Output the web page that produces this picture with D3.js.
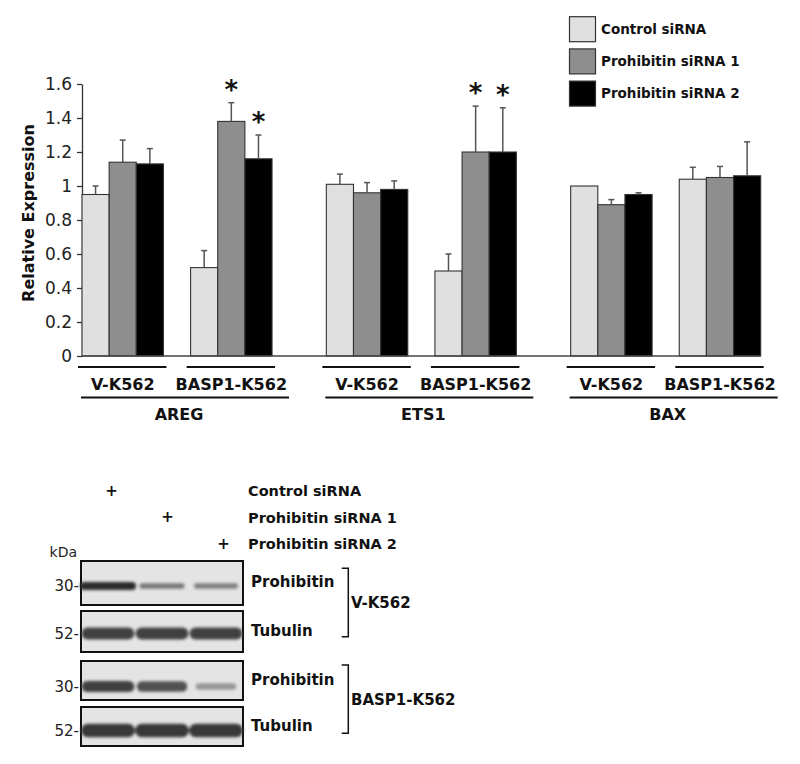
<!DOCTYPE html>
<html><head><meta charset="utf-8">
<script src="https://cdn.jsdelivr.net/npm/d3@7"></script>
<style>body{margin:0;background:#fff} svg{display:block} text{font-family:"DejaVu Sans",sans-serif}</style>
</head><body><svg id="c" width="800" height="764"></svg>
<script>
// ---------- bar chart data ----------
const genes = ["AREG", "ETS1", "BAX"];
const cellLines = ["V-K562", "BASP1-K562"];
const seriesNames = ["Control siRNA", "Prohibitin siRNA 1", "Prohibitin siRNA 2"];
// order: AREG V, AREG BASP1, ETS1 V, ETS1 BASP1, BAX V, BAX BASP1
const controlValues = [0.95, 0.52, 1.01, 0.50, 1.00, 1.04];
const sirna1Values  = [1.14, 1.38, 0.96, 1.20, 0.89, 1.05];
const sirna2Values  = [1.13, 1.16, 0.98, 1.20, 0.95, 1.06];
const controlErrors = [0.05, 0.10, 0.06, 0.10, 0.00, 0.07];
const sirna1Errors  = [0.13, 0.11, 0.06, 0.27, 0.03, 0.065];
const sirna2Errors  = [0.09, 0.14, 0.05, 0.26, 0.01, 0.20];
const sirna1Significant = [false, true, false, true, false, false];
const sirna2Significant = [false, true, false, true, false, false];
const yTicks = [0, 0.2, 0.4, 0.6, 0.8, 1, 1.2, 1.4, 1.6];
const yTickLabels = ["0", "0.2", "0.4", "0.6", "0.8", "1", "1.2", "1.4", "1.6"];
const yTitle = "Relative Expression";
const seriesColors = ["#e0e0e0", "#8e8e8e", "#000000"];

// ---------- western blot data ----------
const blotLanes = ["Control siRNA", "Prohibitin siRNA 1", "Prohibitin siRNA 2"];
const blotCellLines = ["V-K562", "BASP1-K562"];
const blotProteins = ["Prohibitin", "Tubulin"];
const blotMarkers = ["30-", "52-"];
const vProhibitinBands = [1.0, 0.5, 0.45];
const vTubulinBands = [0.85, 0.85, 0.85];
const basp1ProhibitinBands = [0.85, 0.75, 0.3];
const basp1TubulinBands = [0.9, 0.9, 0.9];

const svg = d3.select("#c");
svg.append("rect").attr("width", 800).attr("height", 764).attr("fill", "#fff");

// ---------- scales ----------
const y = d3.scaleLinear().domain([0, 1.6]).range([356, 84]);
const slotsPerGene = 9, slotsPerCell = 4, nSlots = 25;
const x = d3.scaleLinear().domain([0, nSlots]).range([82, 760.7]);
const bw = x(1) - x(0);

const seriesVals = [controlValues, sirna1Values, sirna2Values];
const seriesErrs = [controlErrors, sirna1Errors, sirna2Errors];
const seriesSig = [controlValues.map(() => false), sirna1Significant, sirna2Significant];

const groups = [];
genes.forEach((g, gi) => cellLines.forEach((c, ci) => {
  groups.push({ gene: g, gi, cell: c, ci, idx: gi * 2 + ci, start: gi * slotsPerGene + ci * slotsPerCell });
}));
const bars = [];
groups.forEach(gr => seriesNames.forEach((s, si) => {
  bars.push({ slot: gr.start + si, si, v: seriesVals[si][gr.idx], e: seriesErrs[si][gr.idx], sig: seriesSig[si][gr.idx] });
}));

// ---------- y axis ----------
const ax = svg.append("g").attr("transform", "translate(82,0)")
  .call(d3.axisLeft(y).tickValues(yTicks).tickFormat((d, i) => yTickLabels[i])
    .tickSize(5).tickSizeOuter(0).tickPadding(5));
ax.select(".domain").attr("stroke", "#333").attr("stroke-width", 1.3);
ax.selectAll(".tick line").attr("stroke", "#333").attr("stroke-width", 1.3);
ax.selectAll(".tick text").attr("font-size", 17).attr("fill", "#222")
  .attr("font-family", "DejaVu Sans, sans-serif");

svg.append("text").attr("transform", `translate(33.5,213) rotate(-90)`)
  .attr("text-anchor", "middle").attr("font-size", 16).attr("font-weight", "bold")
  .attr("fill", "#111").text(yTitle);

// ---------- bars ----------
svg.append("g").selectAll("rect").data(bars).join("rect")
  .attr("x", d => x(d.slot)).attr("width", bw)
  .attr("y", d => y(d.v)).attr("height", d => y(0) - y(d.v))
  .attr("fill", d => seriesColors[d.si]).attr("stroke", "#333").attr("stroke-width", 1.1);

// error bars (upward only)
const eg = svg.append("g").attr("stroke", "#555").attr("stroke-width", 1.5);
bars.filter(d => d.e > 0).forEach(d => {
  const cx = x(d.slot) + bw / 2;
  eg.append("line").attr("x1", cx).attr("x2", cx).attr("y1", y(d.v)).attr("y2", y(d.v + d.e));
  eg.append("line").attr("x1", cx - 3).attr("x2", cx + 3).attr("y1", y(d.v + d.e)).attr("y2", y(d.v + d.e));
});

// significance stars
svg.append("g").selectAll("text").data(bars.filter(d => d.sig)).join("text")
  .attr("x", d => x(d.slot) + bw / 2).attr("y", d => y(d.v + d.e) - 4)
  .attr("text-anchor", "middle").attr("font-size", 26).attr("font-weight", "bold")
  .attr("fill", "#111").text("*");

// x baseline
svg.append("line").attr("x1", x(0)).attr("x2", x(nSlots)).attr("y1", y(0)).attr("y2", y(0))
  .attr("stroke", "#444").attr("stroke-width", 1.3);

// ---------- group labels ----------
const lab = svg.append("g");
groups.forEach(gr => {
  const x0 = x(gr.start), x1 = x(gr.start + 3);
  lab.append("line").attr("x1", x0 - 4).attr("x2", x1 + 3).attr("y1", 367).attr("y2", 367)
    .attr("stroke", "#111").attr("stroke-width", 1.8);
  lab.append("text").attr("x", (x0 + x1) / 2).attr("y", 390).attr("text-anchor", "middle")
    .attr("font-size", 16).attr("font-weight", "bold").attr("fill", "#111").text(gr.cell);
});
genes.forEach((g, gi) => {
  const x0 = x(gi * slotsPerGene), x1 = x(gi * slotsPerGene + slotsPerCell + 3);
  lab.append("line").attr("x1", x0 - 1).attr("x2", x1 + 17).attr("y1", 397.5).attr("y2", 397.5)
    .attr("stroke", "#111").attr("stroke-width", 1.8);
  lab.append("text").attr("x", (x0 + x1) / 2 + 2).attr("y", 420).attr("text-anchor", "middle")
    .attr("font-size", 16).attr("font-weight", "bold").attr("fill", "#111").text(g);
});

// ---------- legend ----------
const leg = svg.append("g");
seriesNames.forEach((s, i) => {
  const yy = 16.7 + i * 32.2;
  leg.append("rect").attr("x", 569.5).attr("y", yy).attr("width", 26).attr("height", 25)
    .attr("fill", seriesColors[i]).attr("stroke", "#333").attr("stroke-width", 1.2);
  leg.append("text").attr("x", 601).attr("y", yy + 12.5).attr("dy", "0.36em")
    .attr("font-size", 13.5).attr("font-weight", "bold").attr("fill", "#111").text(s);
});

// ---------- western blot ----------
const defs = svg.append("defs");
defs.append("filter").attr("id", "blur").attr("x", "-20%").attr("y", "-80%").attr("width", "140%").attr("height", "260%")
  .append("feGaussianBlur").attr("stdDeviation", 1.7);

const laneX = d3.scalePoint().domain(blotLanes).range([108, 216]);
const plusX = d3.scalePoint().domain(blotLanes).range([111.5, 223.5]);
const bl = svg.append("g");
blotLanes.forEach((l, i) => {
  const yy = 495.5 + i * 26.5;
  bl.append("text").attr("x", plusX(l)).attr("y", yy).attr("text-anchor", "middle")
    .attr("font-size", 15).attr("font-weight", "bold").attr("fill", "#111").text("+");
  bl.append("text").attr("x", 248).attr("y", yy + 0.5).attr("font-size", 14.5)
    .attr("font-weight", "bold").attr("fill", "#111").text(l);
});
bl.append("text").attr("x", 77).attr("y", 556.5).attr("text-anchor", "end")
  .attr("font-size", 14).attr("fill", "#222").text("kDa");

const panels = [
  { cell: 0, prot: 0, top: 561, h: 44, bands: vProhibitinBands, thick: 8, off: 3 },
  { cell: 0, prot: 1, top: 611, h: 41, bands: vTubulinBands, thick: 13, off: 2 },
  { cell: 1, prot: 0, top: 661, h: 39, bands: basp1ProhibitinBands, thick: 12, off: 6 },
  { cell: 1, prot: 1, top: 707, h: 39, bands: basp1TubulinBands, thick: 14, off: 4 }
];
const bandColor = d3.scaleLinear().domain([0, 1]).range(["#c4c4c4", "#2a2a2a"]);
panels.forEach(p => {
  bl.append("rect").attr("x", 81).attr("y", p.top).attr("width", 162).attr("height", p.h)
    .attr("fill", "#e4e4e4").attr("stroke", "#111").attr("stroke-width", 2);
  const cy = p.top + p.h / 2 + p.off;
  const g = bl.append("g").attr("filter", "url(#blur)");
  p.bands.forEach((b, li) => {
    const w = 34 + 22 * b;
    const th = Math.max(4, p.thick * Math.sqrt(b));
    g.append("rect").attr("x", laneX(blotLanes[li]) - w / 2).attr("y", cy - th / 2)
      .attr("width", w).attr("height", th).attr("rx", th / 2)
      .attr("fill", bandColor(b));
  });
  bl.append("text").attr("x", 79).attr("y", cy).attr("dy", "0.36em").attr("text-anchor", "end")
    .attr("font-size", 15).attr("fill", "#222").text(blotMarkers[p.prot]);
  bl.append("text").attr("x", 251).attr("y", p.top + p.h / 2 - 1).attr("dy", "0.36em")
    .attr("font-size", 15).attr("font-weight", "bold").attr("fill", "#111").text(blotProteins[p.prot]);
});
blotCellLines.forEach((c, ci) => {
  const t = ci === 0 ? 568.3 : 665, b = ci === 0 ? 636.7 : 733.3;
  bl.append("path").attr("d", `M341.7,${t}H348.3V${b}H341.7`).attr("fill", "none")
    .attr("stroke", "#111").attr("stroke-width", 1.5);
  bl.append("text").attr("x", 351).attr("y", (t + b) / 2).attr("dy", "0.36em")
    .attr("font-size", 15).attr("font-weight", "bold").attr("fill", "#111").text(c);
});
</script></body></html>
